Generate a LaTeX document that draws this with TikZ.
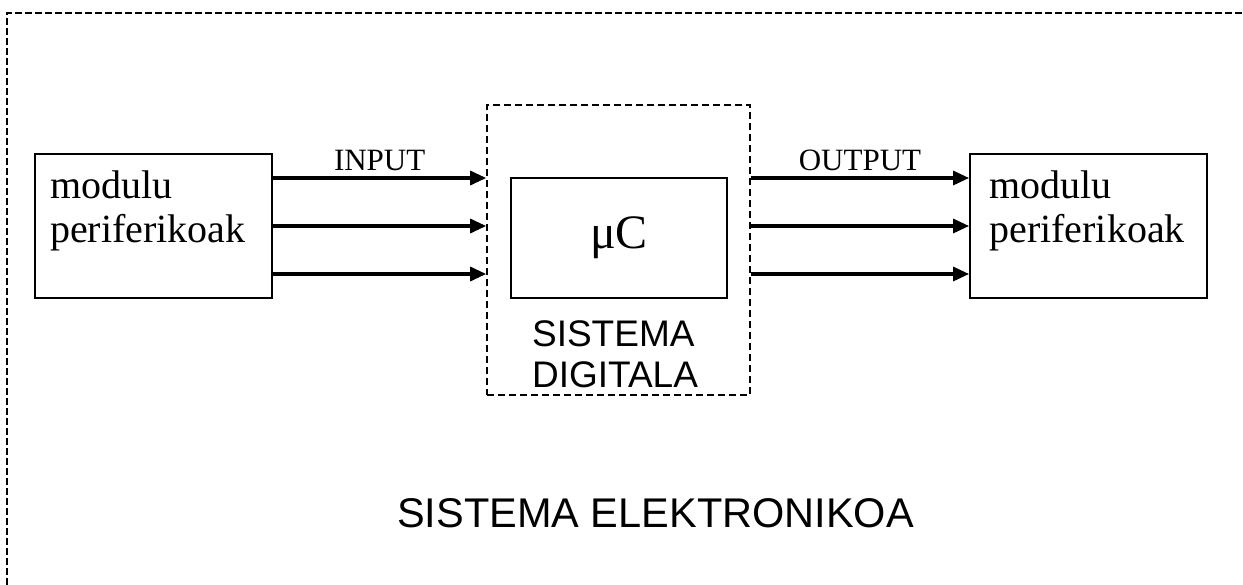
\documentclass[tikz,border=0pt]{standalone}
\usepackage{fontspec}
\setmainfont{Liberation Serif}
\newfontfamily\labelsans{Liberation Sans}
\usetikzlibrary{arrows.meta, positioning, calc}

\begin{document}
\begin{tikzpicture}[
    x=1pt, y=-1pt,
    frame/.style={line width=2.8pt, dash pattern=on 7pt off 3pt},
    block/.style={draw, line width=2.2pt, minimum width=237pt, minimum height=144pt, inner sep=0pt},
    digbox/.style={draw, line width=1.6pt, dash pattern=on 7pt off 4pt, minimum width=263pt, minimum height=290pt, inner sep=0pt},
    ucbox/.style={draw, line width=2.2pt, minimum width=216pt, minimum height=120pt, font=\fontsize{48}{52}\selectfont},
    modlab/.style={align=left, inner sep=0pt, font=\fontsize{40}{44}\selectfont},
    diglab/.style={align=left, inner sep=0pt, font=\labelsans\fontsize{37}{41}\selectfont},
    siglab/.style={inner sep=0pt, font=\fontsize{31}{34}\selectfont},
    title/.style={inner sep=0pt, font=\labelsans\fontsize{41.5}{46}\selectfont},
    arrow/.style={-{Triangle[length=16pt, width=14pt]}, line width=3.2pt}
  ]
    \useasboundingbox (0,0) rectangle (1243,584);

    % outer frame, runs off the page at right and bottom
    \draw[frame] (1262,13) -- (7,13) -- (7,600);

    \node[block] (lmod) at (153.5,226) {};
    \node[block, right=696pt of lmod] (rmod) {};
    \node[digbox] (dig) at (618.5,250) {};
    \node[ucbox] (uc) at (619,238) {μC};

    \node[modlab, anchor=north west] (ltxt) at ([xshift=16pt, yshift=-18pt]lmod.north west) {modulu\\periferikoak};
    \node[modlab, anchor=north west] (rtxt) at ([xshift=20pt, yshift=-18pt]rmod.north west) {modulu\\periferikoak};
    \node[diglab, anchor=north west] (digtxt) at ([xshift=22pt, yshift=-21pt]uc.south west) {SISTEMA\\DIGITALA};

    \foreach \d in {48,0,-48} {
      \draw[arrow] ([yshift=\d pt]lmod.east) -- ([yshift=\d pt]lmod.east -| dig.west);
      \draw[arrow] ([yshift=\d pt]rmod.west -| dig.east) -- ([yshift=\d pt]rmod.west);
    }

    \path ([yshift=48pt]lmod.east) -- node[siglab, anchor=base, yshift=8pt] (inlab) {INPUT} ([yshift=48pt]lmod.east -| dig.west);
    \path ([yshift=48pt]rmod.west -| dig.east) -- node[siglab, anchor=base, yshift=8pt] (outlab) {OUTPUT} ([yshift=48pt]rmod.west);

    \node[title, anchor=base] (sysname) at (655.5,527) {SISTEMA ELEKTRONIKOA};
\end{tikzpicture}
\end{document}
